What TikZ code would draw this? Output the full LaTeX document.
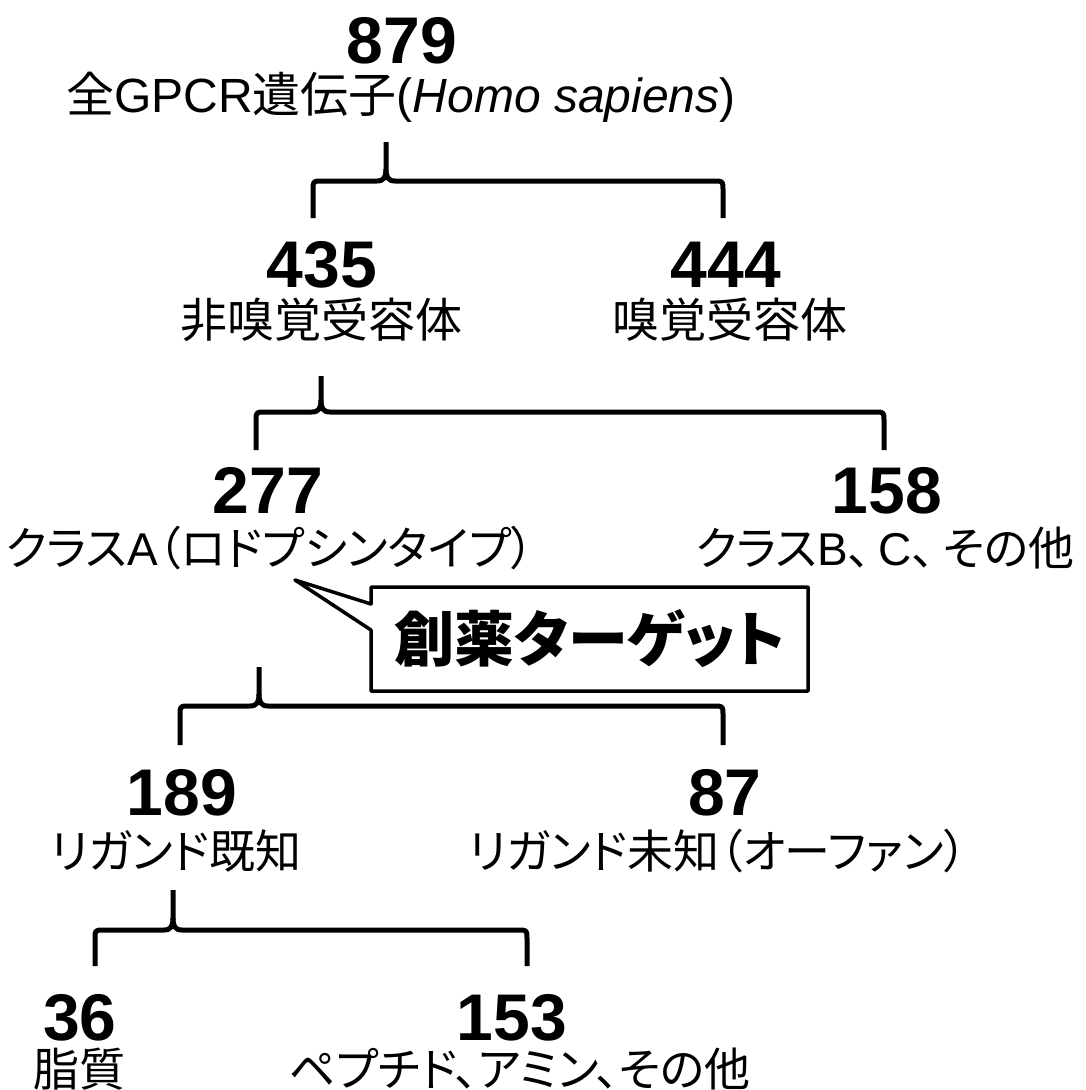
\documentclass[tikz,border=0pt]{standalone}
\usepackage{fontspec}
\setmainfont{Liberation Sans}
\newfontfamily\jpf{Noto Sans CJK JP}[RawFeature=+palt]
\newcommand{\jp}[1]{{\jpf #1}}
\newcommand{\gbrace}[6]{%
  \draw[bracestyle] (#4,#6) -- (#4,#3+9) .. controls (#4,#3) .. (#4+9,#3) -- (#1-9,#3) .. controls (#1-2,#3) and (#1,#3-4) .. (#1,#3-12) -- (#1,#2);
  \draw[bracestyle] (#1,#3-12) .. controls (#1,#3-4) and (#1+2,#3) .. (#1+9,#3) -- (#5-9,#3) .. controls (#5,#3) .. (#5,#3+9) -- (#5,#6);}
\begin{document}
\begin{tikzpicture}[x=1pt,y=-1pt,
  num/.style={font=\fontsize{66}{66}\selectfont\bfseries, anchor=base, inner sep=0pt, text height=0.72em, text depth=0pt},
  lab/.style={font=\fontsize{46}{46}\selectfont, anchor=base, inner sep=0pt, text height=0.86em, text depth=0.1em},
  bigger/.style={font=\fontsize{48}{48}\selectfont},
  midsize/.style={font=\fontsize{47}{47}\selectfont},
  bracestyle/.style={line width=5pt, line join=round},
  calloutline/.style={line width=3.5pt, line join=round}]
\fill[white] (0,0) rectangle (1085,1090);
\useasboundingbox (0,0) rectangle (1085,1090);
% level 0
\node[num] (n879) at (402,63) {879};
\node[lab,bigger] (l879) at (401,112) {\jp{全}GPCR\jp{遺伝子}(\textit{Homo sapiens})};
\gbrace{386}{142}{181}{313}{723}{218}
% level 1
\node[num] (n435) at (322,287) {435};
\node[lab,midsize] (l435) at (321,337) {\jp{非嗅覚受容体}};
\node[num] (n444) at (726,287) {444};
\node[lab,midsize] (l444) at (730,337) {\jp{嗅覚受容体}};
\gbrace{321}{376}{412}{256}{884}{450}
% level 2
\node[num] (n277) at (268,513) {277};
\node[lab] (l277) at (270,565) {\jp{クラス}A\jp{（ロドプシンタイプ）}};
\node[num] (n158) at (887,513) {158};
\node[lab] (l158) at (885,565) {\jp{クラス}B\jp{、}\,C\jp{、}\,\jp{その他}};
% callout
\node[font=\fontsize{60}{60}\selectfont\bfseries\jpf, anchor=center, inner sep=0pt] (target) at (590,639) {創薬ターゲット};
\coordinate (c1) at (371,587);
\coordinate (c2) at (808,587);
\coordinate (c3) at (808,691);
\coordinate (c4) at (371,691);
\coordinate (c5) at (371,630);
\coordinate (ctip) at (295,580);
\coordinate (c6) at (371,604);
\draw[calloutline] (c1) -- (c2) -- (c3) -- (c4) -- (c5) -- (ctip) -- (c6) -- cycle;
\gbrace{259}{667}{706}{180}{723}{745}
% level 3
\node[num] (n189) at (182,815) {189};
\node[lab] (l189) at (176,868) {\jp{リガンド既知}};
\node[num] (n87) at (725,815) {87};
\node[lab] (l87) at (718,868) {\jp{リガンド未知（オーファン）}};
\gbrace{173}{890}{930}{95}{527}{966}
% level 4
\node[num] (n36) at (80,1040) {36};
\node[lab] (l36) at (80,1086) {\jp{脂質}};
\node[num] (n153) at (512,1040) {153};
\node[lab] (l153) at (520,1086) {\jp{ペプチド、アミン、その他}};
\end{tikzpicture}
\end{document}
